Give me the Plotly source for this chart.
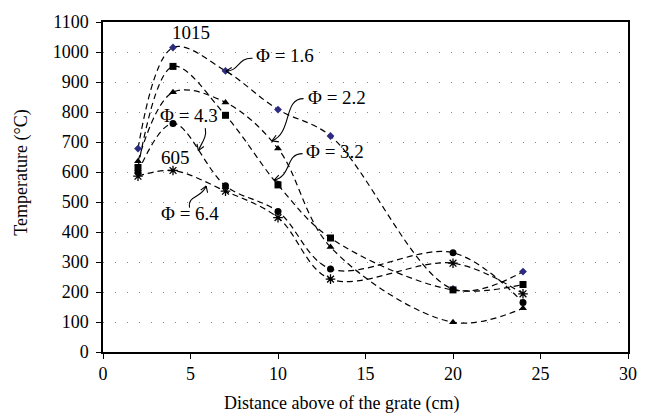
import math
import plotly.graph_objects as go

x_cm = [2, 4, 7, 10, 13, 20, 24]
phi_16 = [678, 1015, 937, 808, 720, 210, 268]
phi_22 = [636, 866, 832, 678, 350, 99, 146]
phi_32 = [615, 952, 789, 557, 380, 207, 225]
phi_43 = [600, 762, 554, 468, 277, 331, 165]
phi_64 = [586, 605, 536, 448, 243, 296, 194]

x_ticks = [0, 5, 10, 15, 20, 25, 30]
y_ticks = list(range(0, 1101, 100))

FONT = "'Liberation Serif', 'Times New Roman', 'DejaVu Serif', serif"
W, H = 649, 417
ML, MR, MT, MB = 103, 12, 16, 65
PW, PH = W - ML - MR, H - MT - MB
X0, X1, Y0, Y1 = 0, 30, 0, 1100


def px_to_data(px, py):
    return (X0 + (px - ML) / PW * (X1 - X0), Y0 + (H - MB - py) / PH * (Y1 - Y0))


def px_to_paper(px, py):
    return ((px - ML) / PW, (H - MB - py) / PH)


fig = go.Figure()

series = [
    (phi_16, "diamond", "#2b2b80", 6, "Φ = 1.6"),
    (phi_32, "square", "black", 7, "Φ = 3.2"),
    (phi_22, "triangle-up", "black", 7, "Φ = 2.2"),
    (phi_43, "circle", "black", 7, "Φ = 4.3"),
    (phi_64, "asterisk-open", "black", 8, "Φ = 6.4"),
]
for ys, sym, col, size, name in series:
    fig.add_trace(go.Scatter(
        x=x_cm, y=ys, mode="lines+markers", name=name,
        line=dict(color="black", width=1.2, dash="6px,4px", shape="spline", smoothing=1),
        marker=dict(symbol=sym, color=col, size=size,
                    line=dict(color=col, width=1.3 if sym == "asterisk-open" else 0)),
        showlegend=False,
    ))

lab_font = dict(family=FONT, size=19, color="black")
ax_font = dict(family=FONT, size=18, color="black")

# value labels (pixel centre positions)
for px, py, txt in [(192, 27, "1015"), (177, 154, "605")]:
    xd, yd = px_to_data(px, py)
    fig.add_annotation(x=xd, y=yd, text=txt, showarrow=False, font=lab_font,
                       xanchor="center", yanchor="middle")

# series labels: text left edge (px), curved connector as cubic bezier in px
labels = [
    ("Φ = 1.6", (257, 50), [(255, 53), (240, 52), (242, 66), (228, 66)]),
    ("Φ = 2.2", (309, 93), [(307, 94), (286, 94), (296, 128), (275, 137)]),
    ("Φ = 3.2", (307, 148), [(306, 150), (288, 150), (296, 172), (277, 177)]),
    ("Φ = 4.3", (159, 111), [(207, 124), (209, 134), (203, 139), (200, 147)]),
    ("Φ = 6.4", (160, 211), [(191, 205), (189, 192), (203, 196), (208, 183)]),
]
shapes = []
for txt, (tx, ty), pts in labels:
    xd, yd = px_to_data(tx, ty)
    fig.add_annotation(x=xd, y=yd, text=txt, showarrow=False, xanchor="left",
                       yanchor="middle", font=lab_font)
    d = [px_to_data(*p) for p in pts]
    path = "M {},{} C {},{} {},{} {},{}".format(*[v for p in d for v in p])
    shapes.append(dict(type="path", path=path, xref="x", yref="y",
                       line=dict(color="black", width=1.1)))
    (cx, cy), (ex, ey) = pts[2], pts[3]
    ang = math.atan2(ey - cy, ex - cx)
    for s in (+1, -1):
        a = ang + math.pi + s * math.radians(32)
        hx, hy = ex + 7 * math.cos(a), ey + 7 * math.sin(a)
        p1, p2 = px_to_data(hx, hy), px_to_data(ex, ey)
        shapes.append(dict(type="line", xref="x", yref="y", x0=p1[0], y0=p1[1],
                           x1=p2[0], y1=p2[1], line=dict(color="black", width=1.1)))

# axis titles
xt = px_to_paper(346, 404)
fig.add_annotation(xref="paper", yref="paper", x=xt[0], y=xt[1], showarrow=False,
                   xanchor="center", yanchor="middle",
                   text="Distance above of the grate (cm)", font=ax_font)
yt = px_to_paper(20, 169)
fig.add_annotation(xref="paper", yref="paper", x=yt[0], y=yt[1], showarrow=False,
                   xanchor="center", yanchor="middle",
                   text="Temperature (°C)", textangle=-90, font=ax_font)

fig.update_xaxes(range=[X0, X1], tickvals=x_ticks, ticks="outside", ticklen=5,
                 tickcolor="black", showline=True, linecolor="black", linewidth=1.5,
                 mirror=True, showgrid=False, zeroline=False, tickfont=ax_font)
fig.update_yaxes(range=[Y0, Y1], tickvals=y_ticks, ticks="outside", ticklen=5,
                 tickcolor="black", showline=True, linecolor="black", linewidth=1.5,
                 mirror=True, showgrid=True, gridcolor="#888888", gridwidth=1,
                 griddash="1px,11px", zeroline=False, tickfont=ax_font,
                 ticklabelstandoff=4)

fig.update_layout(width=W, height=H, margin=dict(l=ML, r=MR, t=MT, b=MB),
                  plot_bgcolor="white", paper_bgcolor="white",
                  font=dict(family=FONT), shapes=shapes)
fig.write_html("out.html")
